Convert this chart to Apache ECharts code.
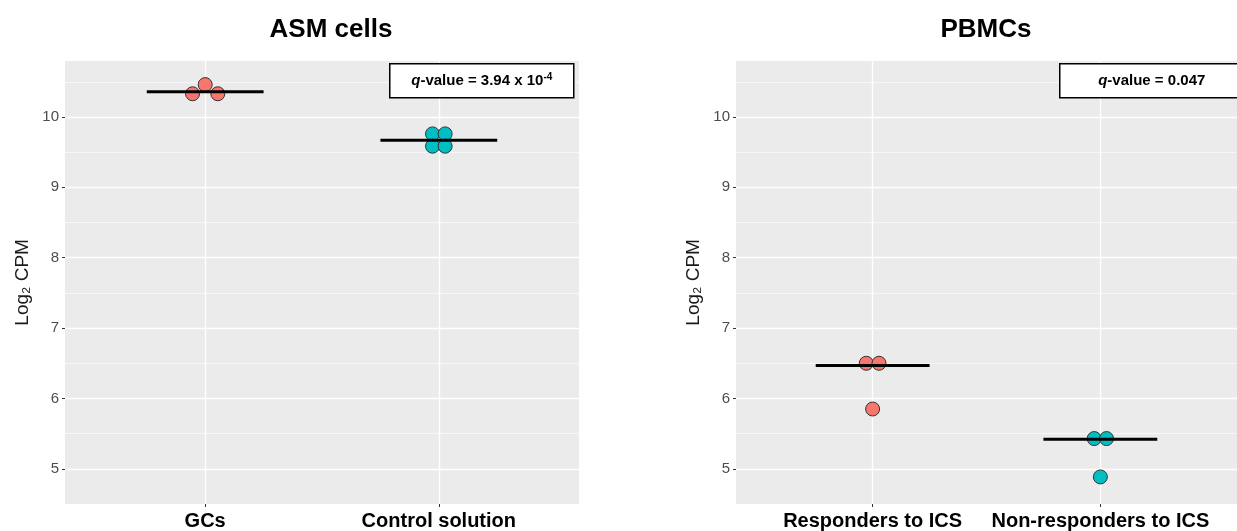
<!DOCTYPE html>
<html><head><meta charset="utf-8">
<script src="https://cdn.jsdelivr.net/npm/echarts@6/dist/echarts.min.js"></script>
<style>html,body{margin:0;padding:0;background:#fff}#c{width:1237px;height:531px}</style>
</head><body><div id="c"></div>
<script>
// ---- data ----
const panelTitles = ['ASM cells', 'PBMCs'];
const asmCategories = ['GCs', 'Control solution'];
const pbmcCategories = ['Responders to ICS', 'Non-responders to ICS'];
const gcsValues = [10.33, 10.46, 10.33];
const gcsJitter = [-0.054, 0, 0.054];
const controlValues = [9.76, 9.76, 9.585, 9.585];
const controlJitter = [-0.027, 0.027, -0.027, 0.027];
const respValues = [6.50, 6.50, 5.85];
const respJitter = [-0.028, 0.028, 0];
const nonRespValues = [5.43, 5.43, 4.885];
const nonRespJitter = [-0.027, 0.027, 0];
const asmMedians = [10.36, 9.67];
const pbmcMedians = [6.47, 5.42];
const yTicks = [5, 6, 7, 8, 9, 10];
const asmQ = ['3.94 x 10', '-4'];
const pbmcQ = ['0.047', ''];
const groupColors = ['#F8766D', '#00BFC4'];

const FONT = 'Liberation Sans, Arial, sans-serif';

function xAxisFor(gi, cats) {
  return {
    type: 'value', gridIndex: gi, min: 0.4, max: 2.6,
    axisLine: {show: false},
    axisTick: {show: true, customValues: [1, 2], length: 3, lineStyle: {color: '#333', width: 1}},
    axisLabel: {customValues: [1, 2], formatter: v => cats[Math.round(v) - 1],
      fontFamily: FONT, fontSize: 20, fontWeight: 'bold', color: '#000', margin: 7},
    splitLine: {show: true, lineStyle: {color: '#fff', width: 1.3}}
  };
}
function yAxisFor(gi) {
  return {
    type: 'value', gridIndex: gi, min: 4.5, max: 10.8, interval: 0.5,
    name: 'Log\u2082 CPM', nameLocation: 'middle', nameGap: 33,
    nameTextStyle: {fontFamily: FONT, fontSize: 19, color: '#1a1a1a'},
    axisLine: {show: false},
    axisTick: {show: true, customValues: yTicks, length: 3, lineStyle: {color: '#333', width: 1}},
    axisLabel: {customValues: yTicks, fontFamily: FONT, fontSize: 15, color: '#4D4D4D', margin: 6},
    splitLine: {show: true, lineStyle: {color: '#fff', width: 1.3}}
  };
}
function yMinorFor(gi) {
  return {
    type: 'value', gridIndex: gi, min: 4.5, max: 10.8, interval: 0.5,
    axisLine: {show: false}, axisTick: {show: false}, axisLabel: {show: false},
    splitLine: {show: true, lineStyle: {color: '#fff', width: 0.6}}
  };
}
function pointSeries(xi, yi, pos, vals, jit, color) {
  return {
    type: 'scatter', xAxisIndex: xi, yAxisIndex: yi, symbolSize: 14, z: 3,
    itemStyle: {color: color, borderColor: '#333', borderWidth: 1, opacity: 1},
    data: vals.map((v, i) => [pos + jit[i], v])
  };
}
function medianSeries(xi, yi, pos, m) {
  return {
    type: 'line', xAxisIndex: xi, yAxisIndex: yi, symbol: 'none', z: 4,
    lineStyle: {color: '#000', width: 3}, silent: true,
    data: [[pos - 0.25, m], [pos + 0.25, m]]
  };
}
function qBox(left, top, width, q) {
  return {
    type: 'group', left: left, top: top, z: 100,
    children: [
      {type: 'rect', z: 100, shape: {x: 0, y: 0, width: width, height: 34},
       style: {fill: '#fff', stroke: '#000', lineWidth: 1.5}},
      {type: 'text', z: 101, x: width / 2, y: 17,
       style: {text: '{q|q}{b|-value = ' + q[0] + '}' + (q[1] ? '{s|' + q[1] + '}' : ''),
         align: 'center', verticalAlign: 'middle',
         rich: {
           q: {fontFamily: FONT, fontSize: 15, fontWeight: 'bold', fontStyle: 'italic', fill: '#000', lineHeight: 18},
           b: {fontFamily: FONT, fontSize: 15, fontWeight: 'bold', fill: '#000', lineHeight: 18},
           s: {fontFamily: FONT, fontSize: 10, fontWeight: 'bold', fill: '#000', verticalAlign: 'top', lineHeight: 12, padding: [0, 0, 6, 0]}
         }}}
    ]
  };
}

const chart = echarts.init(document.getElementById('c'), null, {renderer: 'canvas'});
chart.setOption({
  backgroundColor: '#fff',
  animation: false,
  title: [
    {text: panelTitles[0], left: 326, top: 12, textAlign: 'center',
     textStyle: {fontFamily: FONT, fontSize: 26, fontWeight: 'bold', color: '#000'}},
    {text: panelTitles[1], left: 981, top: 12, textAlign: 'center',
     textStyle: {fontFamily: FONT, fontSize: 26, fontWeight: 'bold', color: '#000'}}
  ],
  grid: [
    {left: 65, top: 60.7, width: 514, height: 443.6, show: true, backgroundColor: '#EBEBEB', borderWidth: 0},
    {left: 736, top: 60.7, width: 514, height: 443.6, show: true, backgroundColor: '#EBEBEB', borderWidth: 0}
  ],
  xAxis: [xAxisFor(0, asmCategories), xAxisFor(1, pbmcCategories)],
  yAxis: [yAxisFor(0), yMinorFor(0), yAxisFor(1), yMinorFor(1)],
  series: [
    pointSeries(0, 0, 1, gcsValues, gcsJitter, groupColors[0]),
    pointSeries(0, 0, 2, controlValues, controlJitter, groupColors[1]),
    medianSeries(0, 0, 1, asmMedians[0]),
    medianSeries(0, 0, 2, asmMedians[1]),
    pointSeries(1, 2, 1, respValues, respJitter, groupColors[0]),
    pointSeries(1, 2, 2, nonRespValues, nonRespJitter, groupColors[1]),
    medianSeries(1, 2, 1, pbmcMedians[0]),
    medianSeries(1, 2, 2, pbmcMedians[1])
  ],
  graphic: [qBox(389, 63, 184, asmQ), qBox(1059, 63, 184, pbmcQ)]
});
</script></body></html>
